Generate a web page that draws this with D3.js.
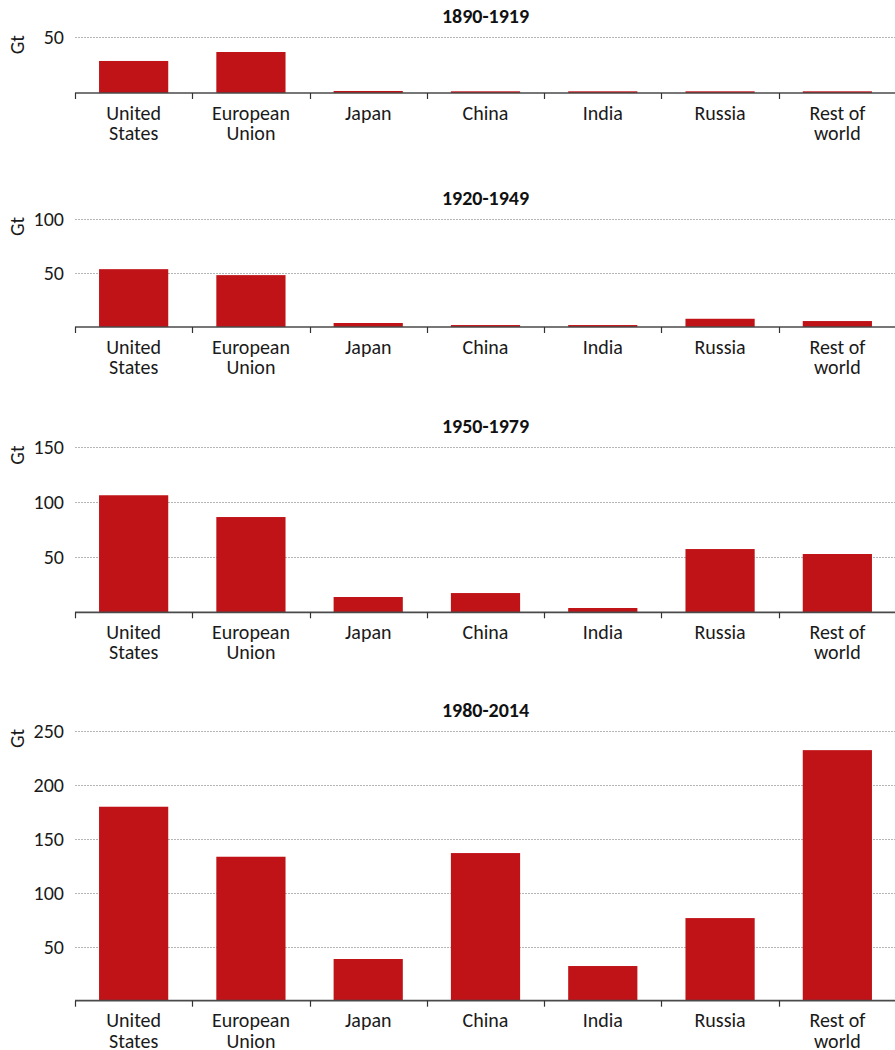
<!DOCTYPE html>
<html>
<head>
<meta charset="utf-8">
<script src="https://cdn.jsdelivr.net/npm/d3@7"></script>
<style>
    body { margin: 0; background: #fff; }
    svg { display: block; font-family: Calibri, Carlito, Lato, sans-serif; }
    .grid line { stroke: #b5b5b5; stroke-width: 1; stroke-dasharray: 2,1; }
    .cat-label, .tick-label, .unit-label { fill: #1a1a1a; font-size: 20px; }
    .panel-title { fill: #111; font-size: 20px; font-weight: bold; }
</style>
</head>
<body>
<div id="chart"></div>
<script>
const categories = ["United States", "European Union", "Japan", "China", "India", "Russia", "Rest of world"];
const periods = ["1890-1919", "1920-1949", "1950-1979", "1980-2014"];

// cumulative emissions, Gt
const values1890 = [28.6, 36.6, 1.8, 1.5, 1.5, 1.5, 1.5];
const values1920 = [53.4, 47.9, 3.7, 1.8, 1.8, 7.6, 5.5];
const values1950 = [106.4, 86.6, 13.9, 17.5, 3.9, 57.5, 53];
const values1980 = [179.6, 133.3, 38.6, 136.7, 32.1, 76.5, 232];

const yMaxes = [50, 100, 150, 250];
const yTicks = [
    [50],
    [50, 100],
    [50, 100, 150],
    [50, 100, 150, 200, 250]
];

const series = [values1890, values1920, values1950, values1980];

const width = 895;
const height = 1050;
const left = 75;
const right = 896;
// top of plot and baseline for each panel
const panelBox = [
    { top: 37, base: 93 },
    { top: 218.7, base: 327 },
    { top: 447.3, base: 612.3 },
    { top: 730.7, base: 1000.7 }
];

const svg = d3.select("#chart").append("svg")
    .attr("width", width)
    .attr("height", height);

const slot = d3.scaleBand()
    .domain(categories)
    .range([left, right]);

const x = d3.scaleBand()
    .domain(categories)
    .range([left, right])
    .paddingInner(0.41)
    .paddingOuter(0.205);

function splitLabel(name){
    if(name === "United States") return ["United", "States"];
    if(name === "European Union") return ["European", "Union"];
    if(name === "Rest of world") return ["Rest of", "world"];
    return [name];
}

series.forEach((values, p) => {
    const box = panelBox[p];
    const y = d3.scaleLinear()
        .domain([0, yMaxes[p]])
        .range([box.base, box.top]);

    const g = svg.append("g").attr("class", "panel");

    // gridlines
    g.append("g").attr("class", "grid")
        .selectAll("line")
        .data(yTicks[p])
        .enter().append("line")
            .attr("x1", left)
            .attr("x2", width)
            .attr("y1", d => Math.round(y(d)) + 0.5)
            .attr("y2", d => Math.round(y(d)) + 0.5);

    // y tick labels
    g.append("g")
        .selectAll("text")
        .data(yTicks[p])
        .enter().append("text")
            .attr("class", "tick-label")
            .attr("x", left - 11)
            .attr("y", d => y(d))
            .attr("dy", "0.35em")
            .attr("text-anchor", "end")
            .text(d => d);

    // unit label
    g.append("text")
        .attr("class", "unit-label")
        .attr("transform", `translate(24, ${box.top - 2}) rotate(-90)`)
        .attr("text-anchor", "end")
        .text("Gt");

    // title
    g.append("text")
        .attr("class", "panel-title")
        .attr("x", (left + right) / 2)
        .attr("y", box.top - 14)
        .attr("text-anchor", "middle")
        .text(periods[p]);

    // bars
    g.append("g")
        .selectAll("rect")
        .data(values)
        .enter().append("rect")
            .attr("x", (d, i) => x(categories[i]))
            .attr("width", x.bandwidth())
            .attr("y", d => y(d))
            .attr("height", d => y(0) - y(d))
            .attr("fill", "#bf1317");

    // x axis line and boundary ticks
    const axis = g.append("g").attr("class", "x-axis");
    axis.append("line")
        .attr("x1", left)
        .attr("x2", width)
        .attr("y1", y(0))
        .attr("y2", y(0))
        .attr("stroke", "#4a4a4a")
        .attr("stroke-width", 1.7);

    const bounds = categories.map(c => slot(c)).concat([right]);
    axis.selectAll(".bound")
        .data(bounds)
        .enter().append("line")
            .attr("class", "bound")
            .attr("x1", d => Math.round(d) + 0.5)
            .attr("x2", d => Math.round(d) + 0.5)
            .attr("y1", y(0))
            .attr("y2", y(0) + 6)
            .attr("stroke", "#333")
            .attr("stroke-width", 1.2);

    // category labels
    const labels = axis.selectAll(".cat-label")
        .data(categories)
        .enter().append("text")
            .attr("class", "cat-label")
            .attr("text-anchor", "middle")
            .attr("x", d => x(d) + x.bandwidth() / 2)
            .attr("y", y(0) + 26.5);
    labels.each(function(d){
        const lines = splitLabel(d);
        d3.select(this).selectAll("tspan")
            .data(lines)
            .enter().append("tspan")
                .attr("x", x(d) + x.bandwidth() / 2)
                .attr("dy", (t, i) => i === 0 ? 0 : 20.5)
                .text(t => t);
    });
});
</script>
</body>
</html>
